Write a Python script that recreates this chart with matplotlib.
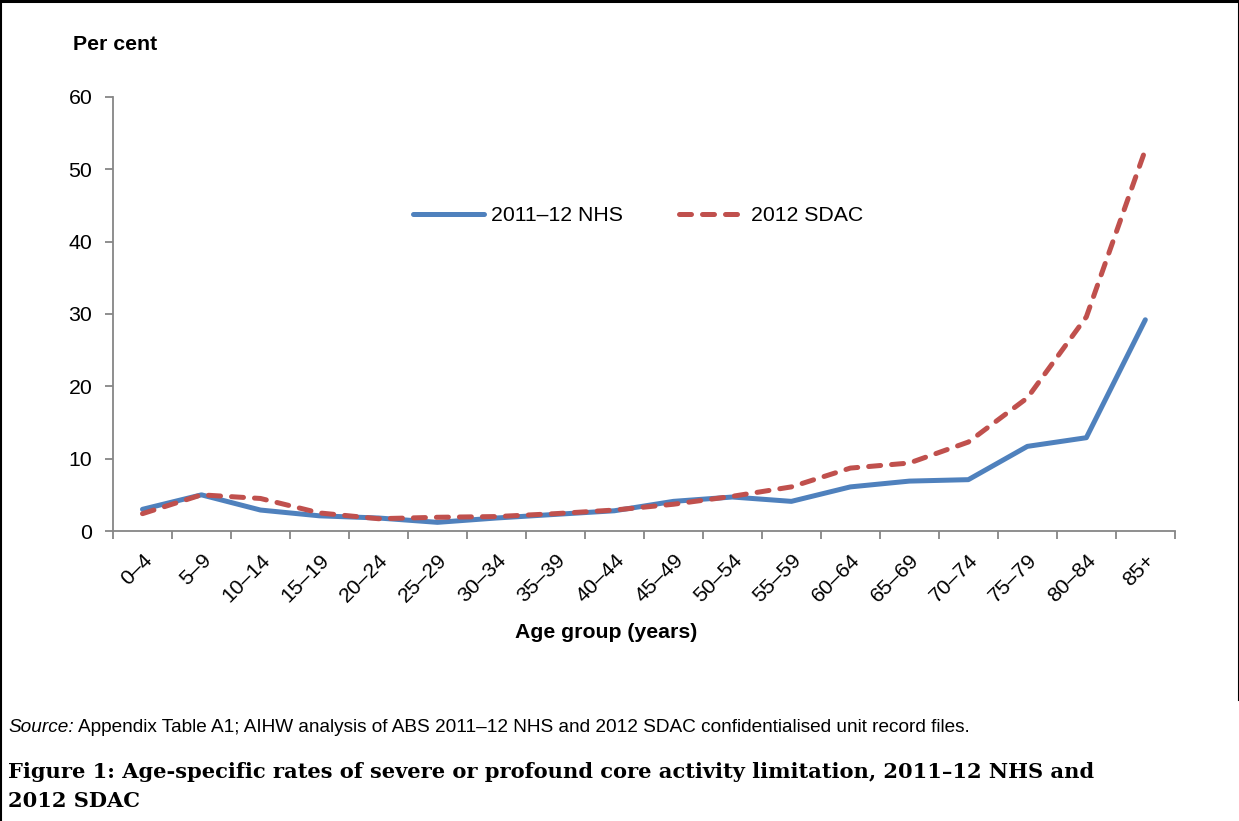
import numpy as np
import matplotlib
matplotlib.use("Agg")
import matplotlib.pyplot as plt
from matplotlib.lines import Line2D

plt.rcParams['font.family'] = ['Liberation Sans', 'DejaVu Sans']

AGE_GROUPS = ["0–4", "5–9", "10–14", "15–19", "20–24", "25–29", "30–34",
              "35–39", "40–44", "45–49", "50–54", "55–59", "60–64", "65–69",
              "70–74", "75–79", "80–84", "85+"]
NHS = [3.0, 5.0, 2.9, 2.1, 1.8, 1.2, 1.8, 2.3, 2.8, 4.1, 4.7, 4.1,
       6.1, 6.9, 7.1, 11.7, 12.9, 29.2]
SDAC = [2.4, 5.0, 4.5, 2.5, 1.7, 1.9, 2.0, 2.4, 2.9, 3.7, 4.8, 6.1,
        8.7, 9.4, 12.3, 18.4, 29.6, 52.7]
YTICKS = [0, 10, 20, 30, 40, 50, 60]

BLUE = '#4F81BD'
RED = '#C0504D'
AXIS_GREY = '#868686'
FS = 15.3

fig = plt.figure(figsize=(12.39, 8.21), dpi=100)
ax = fig.add_axes([0.0912, 0.3532, 0.857, 0.5287])

x = np.arange(len(AGE_GROUPS))
ax.plot(x, NHS, color=BLUE, lw=3.6, solid_capstyle='round',
        solid_joinstyle='round', label='2011–12 NHS')
ax.plot(x, SDAC, color=RED, lw=3.6, dashes=(2.4, 2.2),
        dash_capstyle='round', dash_joinstyle='round', label='2012 SDAC')

ax.set_xlim(-0.5, len(AGE_GROUPS) - 0.5)
ax.set_ylim(0, 60)

for side in ['top', 'right']:
    ax.spines[side].set_visible(False)
for side in ['left', 'bottom']:
    ax.spines[side].set_color(AXIS_GREY)
    ax.spines[side].set_linewidth(1.3)

ax.set_yticks(YTICKS)
ax.tick_params(axis='y', direction='out', length=6, width=1.3,
               color=AXIS_GREY, labelsize=FS, pad=9)

# labels at the centres, tick marks on the category boundaries
ax.set_xticks(x)
ax.set_xticklabels(AGE_GROUPS, rotation=45, ha='right',
                   rotation_mode='anchor', fontsize=FS)
ax.tick_params(axis='x', which='major', length=0, pad=14)
ax.set_xticks(np.arange(-0.5, len(AGE_GROUPS)), minor=True)
ax.tick_params(axis='x', which='minor', direction='out', length=6,
               width=1.3, color=AXIS_GREY)

fig.text(73 / 1239, 1 - 45 / 821, 'Per cent', fontsize=FS,
         fontweight='bold', va='center', ha='left')
fig.text(606 / 1239, 1 - 633 / 821, 'Age group (years)', fontsize=FS,
         fontweight='bold', va='center', ha='center')

# legend: the dashed handle starts in a gap so it shows three whole dashes
handles = [Line2D([], [], color=BLUE, lw=3.6, solid_capstyle='round'),
           Line2D([], [], color=RED, lw=3.6, linestyle=(3.6, (2.4, 2.2)),
                  dash_capstyle='round')]
ax.legend(handles, ['2011–12 NHS', '2012 SDAC'], ncol=2, frameon=False,
          loc='center', bbox_to_anchor=(0.495, 0.726), fontsize=FS,
          handlelength=3.3, handletextpad=0.35, columnspacing=2.4)

# source note: italic "Source:" followed by plain text
src = fig.text(8 / 1239, 1 - 727 / 821, 'Source:', fontsize=13.7,
               style='italic', va='center', ha='left')
fig.canvas.draw()
bb = src.get_window_extent()
fig.text((bb.x1 + 4) / 1239, 1 - 727 / 821,
         'Appendix Table A1; AIHW analysis of ABS 2011–12 NHS and 2012 SDAC '
         'confidentialised unit record files.',
         fontsize=13.7, va='center', ha='left')

title_font = ['DejaVu Serif']
fig.text(8 / 1239, 1 - 772 / 821,
         'Figure 1: Age-specific rates of severe or profound core activity '
         'limitation, 2011–12 NHS and',
         fontsize=15.1, fontweight='bold', family=title_font,
         va='center', ha='left')
fig.text(8 / 1239, 1 - 801 / 821, '2012 SDAC', fontsize=15.1,
         fontweight='bold', family=title_font, va='center', ha='left')

# outer frame
fig.add_artist(Line2D([0, 1], [1 - 1.5 / 821, 1 - 1.5 / 821],
                      color='black', lw=2.2, transform=fig.transFigure))
fig.add_artist(Line2D([1 / 1239, 1 / 1239], [0, 1], color='black', lw=1.5,
                      transform=fig.transFigure))
fig.add_artist(Line2D([1238.5 / 1239, 1238.5 / 1239], [1 - 700 / 821, 1],
                      color='black', lw=1.5, transform=fig.transFigure))

fig.savefig('out.png', dpi=100, facecolor='white')
